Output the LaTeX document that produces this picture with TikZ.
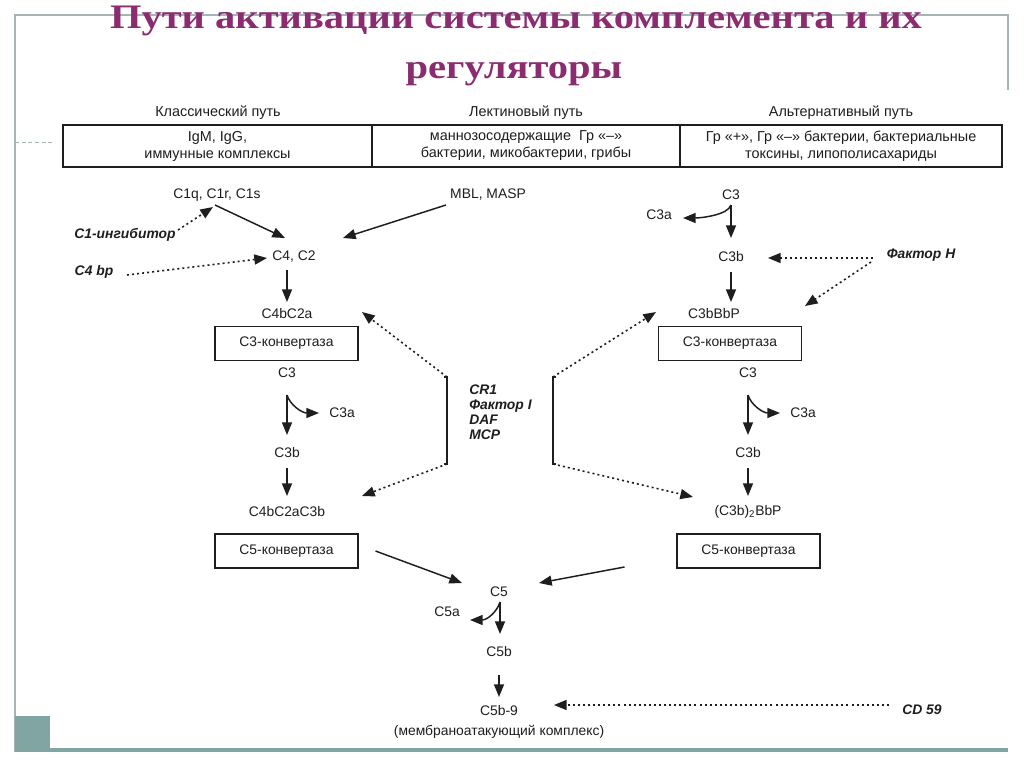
\documentclass[tikz,border=0pt]{standalone}
\usepackage{fontspec}
\setmainfont{Liberation Sans}
\newfontfamily\titlefam{Liberation Serif}
\usetikzlibrary{arrows.meta,calc}
\definecolor{titlec}{RGB}{139,44,112}
\definecolor{framec}{RGB}{165,180,180}
\definecolor{tealc}{RGB}{128,165,162}
\definecolor{inkc}{RGB}{30,30,30}
\newsavebox\titlebox
\tikzset{
  lab/.style={font=\fontsize{10.4}{12}\selectfont, text=inkc, inner sep=0pt},
  hdr/.style={font=\fontsize{10.8}{13}\selectfont, text=inkc, inner sep=0pt},
  reg/.style={font=\fontsize{10.4}{11.25}\selectfont\bfseries\itshape, text=inkc, inner sep=0pt},
  cell/.style={draw=inkc, line width=1.1pt, minimum height=31.5pt, align=center,
    font=\fontsize{10.8}{12.75}\selectfont, text=inkc, inner sep=0pt},
  cbox/.style={draw=inkc, line width=1pt, minimum width=107.25pt, minimum height=25.5pt,
    font=\fontsize{10.4}{12}\selectfont, text=inkc, inner sep=0pt},
  arr/.style={draw=inkc, line width=1.1pt, -{Triangle[length=9.5pt,width=7.5pt]}},
  dotarr/.style={draw=inkc, line width=1.2pt, dash pattern=on 1.5pt off 2.3pt, -{Triangle[length=9.5pt,width=7.5pt]}},
  brk/.style={draw=inkc, line width=1.1pt},
  framel/.style={draw=framec, line width=0.9pt},
  ttl/.style={inner sep=0pt, text=titlec},
}
\begin{document}
\sbox\titlebox{\color{titlec}\titlefam\bfseries\fontsize{28}{30}\selectfont Пути активации системы комплемента и их}%
\pgfmathsetmacro\tsx{609/\the\wd\titlebox}%
\def\tsy{0.92}%
\begin{tikzpicture}[x=0.75pt,y=-0.75pt]
\useasboundingbox (0,0) rectangle (1024,767);
\fill[white] (0,0) rectangle (1024,767);
% frame
\draw[framel] (15,752) -- (15,15) -- (1008,15) -- (1008,90);
\draw[framel, densely dashed, line width=0.6pt] (15,142) -- (52,142);
\fill[tealc] (15,716) rectangle (50,752);
\fill[tealc] (50,748) rectangle (1008,752);
% title
\node[ttl, anchor=base] (title1) at (516,29) {\scalebox{\tsx}[\tsy]{\usebox\titlebox}};
\node[ttl, anchor=base] (title2) at (514,79) {\scalebox{\tsx}[\tsy]{\titlefam\bfseries\fontsize{28}{30}\selectfont регуляторы}};
% headers and table
\node[hdr] (h1) at (218,113) {Классический путь};
\node[hdr] (h2) at (526,113) {Лектиновый путь};
\node[hdr] (h3) at (841,113) {Альтернативный путь};
\node[cell, minimum width=231.75pt] (t1) at (217.5,146) {IgM, IgG,\\иммунные комплексы};
\node[cell, minimum width=231pt] (t2) at (526,146) {маннозосодержащие\ \ Гр «–»\\бактерии, микобактерии, грибы};
\node[cell, minimum width=241.5pt] (t3) at (841,146) {Гр «+», Гр «–» бактерии, бактериальные\\токсины, липополисахариды};
% left column
\node[lab] (c1q) at (217,195) {C1q, C1r, C1s};
\node[reg] (c1inh) at (125,235) {C1-ингибитор};
\node[reg] (c4bp) at (94,272) {C4 bp};
\node[lab] (c4c2) at (294,257) {C4, C2};
\node[lab] (mbl) at (488,195) {MBL, MASP};
\node[lab] (c4bc2a) at (287,314) {C4bC2a};
\node[cbox] (k3l) at (286.5,343.5) {C3-конвертаза};
\node[lab] (c3l) at (287,373) {C3};
\node[lab] (c3al) at (342,413) {C3a};
\node[lab] (c3bl) at (287,453) {C3b};
\node[lab] (c4c2c3) at (287,512) {C4bC2aC3b};
\node[cbox] (k5l) at (286.5,551) {C5-конвертаза};
% middle
\node[reg, align=left, anchor=north west] (reglist) at (469,385) {CR1\\Фактор I\\DAF\\MCP};
\coordinate (bl1) at (447,377);
\coordinate (bl2) at (447,464);
\coordinate (br1) at (553,377);
\coordinate (br2) at (553,464);
% right column
\node[lab] (c3r) at (731,195) {C3};
\node[lab] (c3ar) at (659,215) {C3a};
\node[lab] (c3br) at (731,257) {C3b};
\node[reg] (fh) at (921,255) {Фактор H};
\node[lab] (c3bbbp) at (714,314) {C3bBbP};
\node[cbox] (k3r) at (730,343.5) {C3-конвертаза};
\node[lab] (c3r2) at (748,373) {C3};
\node[lab] (c3ar2) at (803,413) {C3a};
\node[lab] (c3br2) at (748,453) {C3b};
\node[lab] (c3b2) at (748,512) {(C3b)\textsubscript{2}BbP};
\node[cbox] (k5r) at (748.5,551) {C5-конвертаза};
% bottom
\node[lab] (c5) at (499,592) {C5};
\node[lab] (c5a) at (447,612) {C5a};
\node[lab] (c5b) at (499,652) {C5b};
\node[lab] (c5b9) at (499,711) {C5b-9};
\node[lab] (mak) at (499,732) {(мембраноатакующий комплекс)};
\node[reg] (cd59) at (922,710) {CD 59};
% split points
\coordinate (sl) at ([shift={(0,22)}]c3l.center);
\coordinate (sr) at ([shift={(0,22)}]c3r2.center);
\coordinate (st) at ([shift={(0,10)}]c3r.center);
\coordinate (s5) at ([shift={(1,10)}]c5.center);
% solid arrows
\draw[arr] ([shift={(-2,10)}]c1q.center) -- ([shift={(-9,-19)}]c4c2.center);
\draw[arr] ([shift={(-42,10)}]mbl.center) -- ([shift={(49,-19)}]c4c2.center);
\draw[arr] ([shift={(-7,13)}]c4c2.center) -- ([shift={(0,-12)}]c4bc2a.center);
\draw[arr] (sl) -- ([shift={(0,-18)}]c3bl.center);
\draw[arr] (sl) .. controls ([shift={(3,10)}]sl) and ([shift={(-40,0)}]c3al.center) .. ([shift={(-23,0)}]c3al.center);
\draw[arr] ([shift={(0,15)}]c3bl.center) -- ([shift={(0,-16)}]c4c2c3.center);
\draw[arr] (st) -- ([shift={(0,-19)}]c3br.center);
\draw[arr] (st) .. controls ([shift={(-3,10)}]st) and ([shift={(42,3)}]c3ar.center) .. ([shift={(24,3)}]c3ar.center);
\draw[arr] ([shift={(0,15)}]c3br.center) -- ([shift={(17,-12)}]c3bbbp.center);
\draw[arr] (sr) -- ([shift={(0,-18)}]c3br2.center);
\draw[arr] (sr) .. controls ([shift={(3,10)}]sr) and ([shift={(-40,0)}]c3ar2.center) .. ([shift={(-23,0)}]c3ar2.center);
\draw[arr] ([shift={(0,15)}]c3br2.center) -- ([shift={(0,-16)}]c3b2.center);
\draw[arr] ([shift={(89,0)}]k5l.center) -- ([shift={(-37,-9)}]c5.center);
\draw[arr] ([shift={(-124,16)}]k5r.center) -- ([shift={(40,-9)}]c5.center);
\draw[arr] (s5) -- ([shift={(1,-18)}]c5b.center);
\draw[arr] (s5) .. controls ([shift={(-3,10)}]s5) and ([shift={(40,8)}]c5a.center) .. ([shift={(23,8)}]c5a.center);
\draw[arr] ([shift={(0,23)}]c5b.center) -- ([shift={(0,-14)}]c5b9.center);
% dotted regulators
\draw[dotarr] ([shift={(53,-5)}]c1inh.center) -- ([shift={(-4,12)}]c1q.center);
\draw[dotarr] ([shift={(33,3)}]c4bp.center) -- ([shift={(-27,1)}]c4c2.center);
\draw[dotarr] ([shift={(-48,3)}]fh.center) -- ([shift={(37,1)}]c3br.center);
\draw[dotarr] ([shift={(-50,7)}]fh.center) -- ([shift={(91,-8)}]c3bbbp.center);
\draw[dotarr] ([shift={(-33,-5)}]cd59.center) -- ([shift={(55,-6)}]c5b9.center);
% brackets
\draw[brk] ([shift={(-3,0)}]bl1) -- (bl1) -- (bl2) -- ([shift={(-3,0)}]bl2);
\draw[brk] ([shift={(3,0)}]br1) -- (br1) -- (br2) -- ([shift={(3,0)}]br2);
\draw[dotarr] (bl1) -- ([shift={(75,-2)}]c4bc2a.center);
\draw[dotarr] (bl2) -- ([shift={(75,-16)}]c4c2c3.center);
\draw[dotarr] (br1) -- ([shift={(-58,-2)}]c3bbbp.center);
\draw[dotarr] (br2) -- ([shift={(-55,-15)}]c3b2.center);
\end{tikzpicture}
\end{document}
